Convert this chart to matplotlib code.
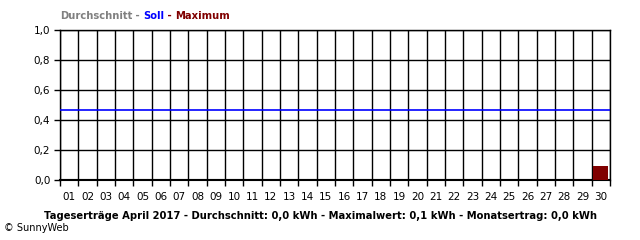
import matplotlib
matplotlib.use('Agg')
import matplotlib.pyplot as plt

days = ['%02d' % d for d in range(1, 31)]
ertrag = [0, 0, 0, 0, 0, 0, 0, 0, 0, 0,
          0, 0, 0, 0, 0, 0, 0, 0, 0, 0,
          0, 0, 0, 0, 0, 0, 0, 0, 0, 0.093]
soll = 0.47
durchschnitt = 0.0
y_ticks = [0.0, 0.2, 0.4, 0.6, 0.8, 1.0]
y_labels = ['0,0', '0,2', '0,4', '0,6', '0,8', '1,0']

plt.rcParams['font.family'] = ['DejaVu Sans']

fig = plt.figure(figsize=(6.4, 2.4), dpi=100)
ax = fig.add_axes([60 / 640, 60 / 240, 550 / 640, 150 / 240])

x = list(range(len(days)))
ax.bar(x, ertrag, width=0.82, color='#800000', zorder=3)
ax.axhline(soll, color='#0000ff', linewidth=1.2, zorder=4)
ax.axhline(durchschnitt, color='#808080', linewidth=1.5, zorder=2)

ax.set_xlim(-0.5, len(days) - 0.5)
ax.set_ylim(0, 1.0)

# Rasterlinien an den Tagesgrenzen
ax.set_xticks([i - 0.5 for i in range(len(days) + 1)])
ax.set_xticklabels([])
ax.set_xticks(x, minor=True)
ax.set_xticklabels(days, minor=True, fontsize=7.5)
ax.tick_params(axis='x', which='major', length=4, width=1, color='black')
ax.tick_params(axis='x', which='minor', length=0, pad=9)
ax.set_yticks(y_ticks)
ax.set_yticklabels(y_labels, fontsize=7.5)
ax.tick_params(axis='y', length=4, width=1, pad=3)
ax.grid(True, which='major', color='black', linewidth=1, zorder=1)
ax.set_axisbelow(True)
for s in ax.spines.values():
    s.set_color('black')
    s.set_linewidth(1)
ax.spines['bottom'].set_linewidth(1.5)

# Titel in drei Farben
t1 = fig.text(60 / 640, 1 - 16 / 240, 'Durchschnitt', color='#808080',
              fontsize=7.2, fontweight='bold', va='center')
fig.canvas.draw()
r = fig.canvas.get_renderer()
pos = t1.get_window_extent(r).x1
for txt, col in [(' - ', '#808080'), ('Soll', '#0000ff'), (' - ', '#800000'),
                 ('Maximum', '#800000')]:
    t = fig.text(pos / 640, 1 - 16 / 240, txt, color=col,
                 fontsize=7.2, fontweight='bold', va='center')
    pos = t.get_window_extent(r).x1

fig.text(321 / 640, 1 - 216 / 240,
         'Tageserträge April 2017 - Durchschnitt: 0,0 kWh - Maximalwert: 0,1 kWh - Monatsertrag: 0,0 kWh',
         ha='center', va='center', fontsize=7.2, fontweight='bold')
fig.text(4 / 640, 1 - 228 / 240, '© SunnyWeb', ha='left', va='center', fontsize=7)

fig.savefig('out.png', dpi=100, facecolor='white')
